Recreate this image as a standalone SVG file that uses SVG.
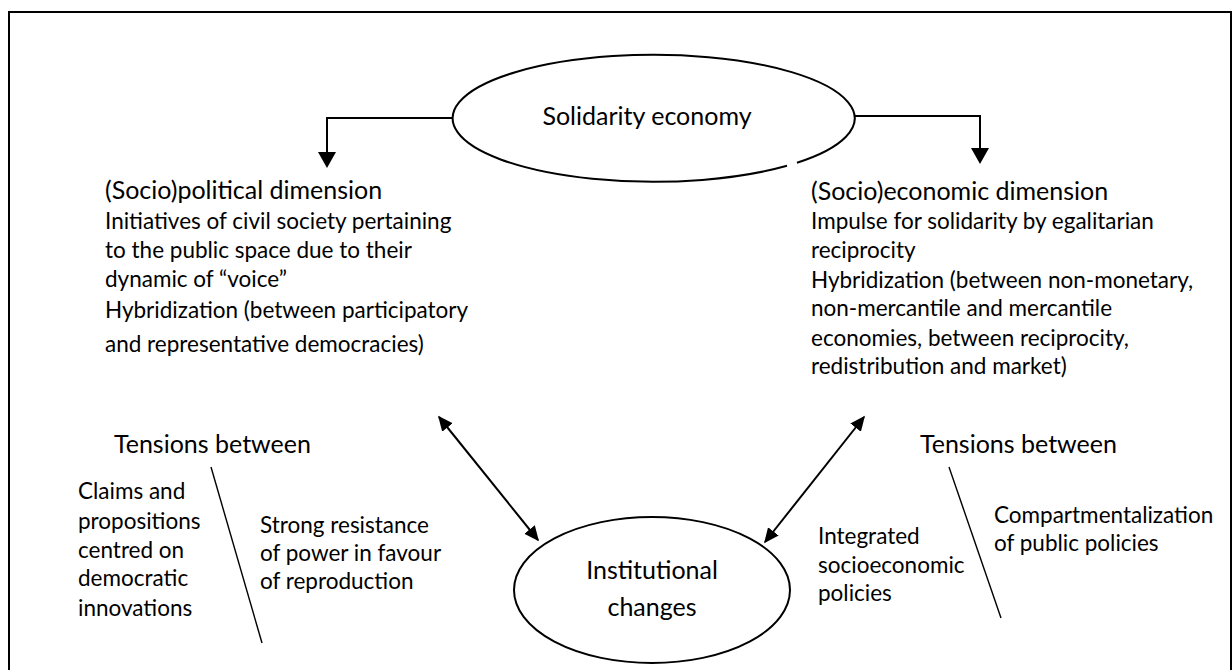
<svg xmlns="http://www.w3.org/2000/svg" width="1232" height="670" viewBox="0 0 1232 670">
  <defs>
    <style>
      .t { font-family: Lato, "Liberation Sans", sans-serif; fill: #000; }
      .b { font-size: 22.5px; }
      .h { font-size: 25px; }
      .ln { stroke: #000; stroke-width: 2; fill: none; }
      .sl { stroke: #000; stroke-width: 1.4; fill: none; }
    </style>
    <marker id="ah" viewBox="0 0 10 10" refX="9" refY="5" markerWidth="8" markerHeight="8" markerUnits="userSpaceOnUse" orient="auto-start-reverse">
      <path d="M0,0 L10,5 L0,10 z" fill="#000"/>
    </marker>
    <marker id="ahd" viewBox="0 0 10 10" refX="9" refY="5" markerWidth="7.5" markerHeight="7.5" orient="auto-start-reverse">
      <path d="M0,0.5 L10,5 L0,9.5 z" fill="#000"/>
    </marker>
    <clipPath id="clipR">
      <rect x="980" y="490" width="252" height="65"/>
    </clipPath>
  </defs>

  <rect id="frame" x="9" y="12" width="1222" height="700" fill="none" stroke="#000" stroke-width="2"/>

  <g id="connectors">
    <path class="ln" d="M452,118 H327 V152"/>
    <path d="M318,152 L336,152 L327,168 z" fill="#000"/>
    <path class="ln" d="M854,116 H980 V148"/>
    <path d="M971,148 L989,148 L980,164 z" fill="#000"/>
    <path class="ln" d="M439,417 L538,540" marker-start="url(#ahd)" marker-end="url(#ahd)"/>
    <path class="ln" d="M864,417 L765,542" marker-start="url(#ahd)" marker-end="url(#ahd)"/>
  </g>

  <g id="solidarity-economy">
    <path class="ln" d="M797,162.8 A201,63.5 0 1 0 787,165.8"/>
    <text class="t h" x="647" y="125" text-anchor="middle">Solidarity economy</text>
  </g>

  <g id="sociopolitical-dimension">
    <text class="t h" x="105" y="199">(Socio)political dimension</text>
    <text class="t b" x="105" y="229">Initiatives of civil society pertaining</text>
    <text class="t b" x="105" y="258">to the public space due to their</text>
    <text class="t b" x="105" y="287">dynamic of “voice”</text>
    <text class="t b" x="105" y="318">Hybridization (between participatory</text>
    <text class="t b" x="105" y="352">and representative democracies)</text>
  </g>

  <g id="socioeconomic-dimension">
    <text class="t h" x="811" y="200">(Socio)economic dimension</text>
    <text class="t b" x="811" y="229">Impulse for solidarity by egalitarian</text>
    <text class="t b" x="811" y="258">reciprocity</text>
    <text class="t b" x="811" y="288">Hybridization (between non-monetary,</text>
    <text class="t b" x="811" y="316">non-mercantile and mercantile</text>
    <text class="t b" x="811" y="346">economies, between reciprocity,</text>
    <text class="t b" x="811" y="374">redistribution and market)</text>
  </g>

  <g id="institutional-changes">
    <ellipse class="ln" cx="652" cy="590" rx="138" ry="73"/>
    <text class="t h" x="652" y="579" text-anchor="middle">Institutional</text>
    <text class="t h" x="652" y="616" text-anchor="middle">changes</text>
  </g>

  <g id="tensions-left">
    <text class="t h" x="114" y="453">Tensions between</text>
    <line class="sl" x1="211" y1="467" x2="262" y2="643"/>
    <text class="t b" x="78" y="499">Claims and</text>
    <text class="t b" x="78" y="529">propositions</text>
    <text class="t b" x="78" y="558">centred on</text>
    <text class="t b" x="78" y="586">democratic</text>
    <text class="t b" x="78" y="616">innovations</text>
    <text class="t b" x="260" y="533">Strong resistance</text>
    <text class="t b" x="260" y="561">of power in favour</text>
    <text class="t b" x="260" y="589">of reproduction</text>
  </g>

  <g id="tensions-right">
    <text class="t h" x="920" y="453">Tensions between</text>
    <line class="sl" x1="949" y1="467" x2="1001" y2="618"/>
    <text class="t b" x="818" y="544">Integrated</text>
    <text class="t b" x="818" y="573">socioeconomic</text>
    <text class="t b" x="818" y="601">policies</text>
    <g clip-path="url(#clipR)">
      <text class="t b" x="994" y="523">Compartmentalization</text>
      <text class="t b" x="994" y="551">of public policies</text>
    </g>
  </g>
</svg>
